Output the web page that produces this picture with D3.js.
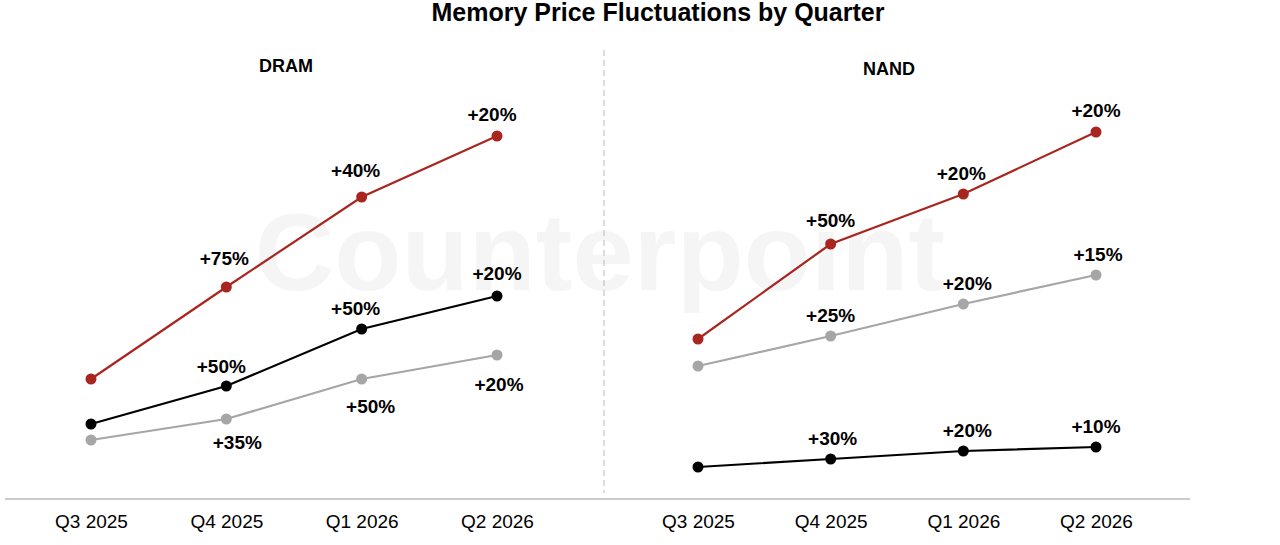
<!DOCTYPE html>
<html><head><meta charset="utf-8">
<script src="https://cdn.jsdelivr.net/npm/d3@7"></script>
<style>body{margin:0;background:#fff;font-family:"Liberation Sans",Arial,sans-serif}</style>
</head><body><div id="chart"></div>
<script>
// Data (relative price index)
var quarters = ["Q3 2025", "Q4 2025", "Q1 2026", "Q2 2026"];
var dramRed = [30, 53, 75.5, 90.75];
var dramBlack = [18.75, 28.25, 42.5, 50.75];
var dramGray = [14.75, 20, 30, 36];
var nandRed = [40, 63.75, 76.25, 91.75];
var nandGray = [33.25, 40.75, 48.75, 56];
var nandBlack = [8, 10, 12, 13];
var dramRedLabels = ["+75%", "+40%", "+20%"];
var dramBlackLabels = ["+50%", "+50%", "+20%"];
var dramGrayLabels = ["+35%", "+50%", "+20%"];
var nandRedLabels = ["+50%", "+20%", "+20%"];
var nandGrayLabels = ["+25%", "+20%", "+15%"];
var nandBlackLabels = ["+30%", "+20%", "+10%"];

var svgWidth = 1280, svgHeight = 545;
var svg = d3.select("#chart").append("svg")
  .attr("width", svgWidth).attr("height", svgHeight);

// watermark
svg.append("text").attr("x", 600).attr("y", 290).attr("text-anchor", "middle")
  .style("font-size", "110px").style("font-weight", "bold")
  .attr("fill", "#000").attr("opacity", 0.035).text("Counterpoint");

svg.append("text").attr("x", 658).attr("y", 21).attr("text-anchor", "middle")
  .style("font-size", "25px").style("font-weight", "bold").text("Memory Price Fluctuations by Quarter");

var yScale = d3.scaleLinear().domain([0, 100]).range([499, 99]);

// baseline + divider
svg.append("line").attr("x1", 5).attr("x2", 1190).attr("y1", 499).attr("y2", 499)
  .attr("stroke", "#bbb").attr("stroke-width", 1.5);
svg.append("line").attr("x1", 604).attr("x2", 604).attr("y1", 50).attr("y2", 493)
  .attr("stroke", "#bbb").attr("stroke-dasharray", "6,4");

function panel(title, x0, x1, titleY, series) {
  var xScale = d3.scalePoint().domain(quarters).range([x0, x1]);
  var g = svg.append("g");
  g.append("text").attr("x", (x0 + x1) / 2 - 8).attr("y", titleY).attr("text-anchor", "middle")
    .style("font-size", "18px").style("font-weight", "bold").text(title);
  var xAxis = g.append("g").attr("transform", "translate(0,499)")
    .call(d3.axisBottom(xScale).tickSize(0).tickPadding(16));
  xAxis.select(".domain").remove();
  xAxis.selectAll("text").style("font-size", "19px").style("font-family", "Liberation Sans, Arial");
  var line = d3.line().x((d, i) => xScale(quarters[i])).y(d => yScale(d));
  series.forEach(function(s) {
    g.append("path").datum(s.values).attr("d", line).attr("fill", "none")
      .attr("stroke", s.color).attr("stroke-width", 2.2);
    g.selectAll(null).data(s.values).enter().append("circle")
      .attr("cx", (d, i) => xScale(quarters[i])).attr("cy", d => yScale(d))
      .attr("r", 5.5).attr("fill", s.color);
    // labels start at the second quarter
    g.selectAll(null).data(s.labels).enter().append("text")
      .attr("x", (d, i) => xScale(quarters[i + 1]) + s.dx[i])
      .attr("y", (d, i) => yScale(s.values[i + 1]) + s.dy[i])
      .attr("text-anchor", "middle").style("font-size", "19px").style("font-weight", "bold")
      .text(d => d);
  });
}

panel("DRAM", 91, 497, 72, [
  {values: dramRed, labels: dramRedLabels, color: "#a8261f", dy: [-22, -20, -15], dx: [-2, -6, -5]},
  {values: dramBlack, labels: dramBlackLabels, color: "#000", dy: [-13, -14, -16], dx: [-5, -6, 0]},
  {values: dramGray, labels: dramGrayLabels, color: "#a6a6a6", dy: [30, 34, 36], dx: [11, 9, 2]}
]);
panel("NAND", 698, 1096, 75, [
  {values: nandRed, labels: nandRedLabels, color: "#a8261f", dy: [-17, -14, -15], dx: [0, -2, 0]},
  {values: nandGray, labels: nandGrayLabels, color: "#a6a6a6", dy: [-14, -14, -14], dx: [0, 4, 2]},
  {values: nandBlack, labels: nandBlackLabels, color: "#000", dy: [-14, -14, -14], dx: [2, 4, 0]}
]);
</script></body></html>
